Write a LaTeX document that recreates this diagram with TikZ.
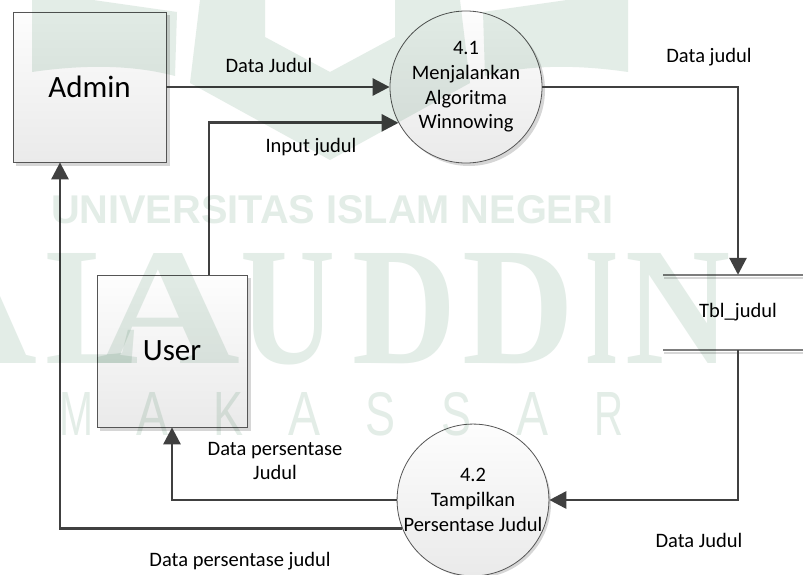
\documentclass[tikz,border=0pt]{standalone}
\usepackage{graphicx}
\usepackage{fontspec}
\setmainfont{Carlito}
\newfontfamily\marksans{Liberation Sans}
\newfontfamily\markserif{Liberation Serif}
\usetikzlibrary{arrows.meta}

\definecolor{edgec}{RGB}{85,85,85}
\definecolor{flowc}{RGB}{64,64,64}
\definecolor{fillt}{RGB}{253,253,253}
\definecolor{fillb}{RGB}{234,234,234}
\definecolor{shadowc}{RGB}{214,214,214}
\definecolor{storec}{RGB}{125,125,125}
\definecolor{storesh}{RGB}{215,215,215}
\definecolor{markc}{RGB}{227,237,231}

% one stretched watermark glyph: left x, width, top y, height, text
\newcommand{\markglyph}[5]{%
  \node[anchor=north west, inner sep=0pt, outer sep=0pt] at (#1,#3)
    {\resizebox{#2pt}{#4pt}{#5}};}

\tikzset{
  entity/.style={draw=edgec, line width=0.8pt, top color=fillt, bottom color=fillb,
    inner sep=0pt, font=\fontsize{31}{37}\selectfont},
  proc/.style={circle, draw=edgec, line width=0.8pt, top color=fillt, bottom color=fillb,
    inner sep=0pt, align=center, font=\fontsize{20.5}{24.6}\selectfont},
  drop/.style={fill=shadowc, draw=none},
  flow/.style={draw=flowc, line width=2.9pt, -{Triangle[length=17pt,width=17pt]}},
  lbl/.style={inner sep=0pt, align=center, font=\fontsize{20.5}{23.5}\selectfont},
  storeline/.style={draw=storec, line width=1.1pt},
  storeshadow/.style={draw=storesh, line width=1.1pt}
}

\begin{document}
\begin{tikzpicture}[x=1pt,y=-1pt]
\useasboundingbox (0,0) rectangle (803,575);
\fill[white] (0,0) rectangle (803,575);

% drop shadows of the external entities and processes
\fill[drop] (16,15) rectangle (170,166);
\fill[drop] (100,278) rectangle (251,431);
\fill[drop] (469,90) circle (76);
\fill[drop] (476,503) circle (75);

% external entities
\node[entity, minimum width=153pt, minimum height=150pt] (admin) at (89.5,87) {Admin};
\node[entity, minimum width=150pt, minimum height=152pt] (user) at (172,351) {User};

% processes
\node[proc, minimum size=152pt] (p41) at (466,87)
  {4.1\\Menjalankan\\Algoritma\\Winnowing};
\node[proc, minimum size=150pt] (p42) at (473,500)
  {4.2\\Tampilkan\\Persentase Judul};

% data store
\node[inner sep=0pt, minimum width=140pt, minimum height=75pt,
  font=\fontsize{20.5}{24.6}\selectfont] (tbl) at (738,312.5) {Tbl\_judul};
\draw[storeshadow] (664,278) -- (803,278);
\draw[storeshadow] (664,353) -- (803,353);
\draw[storeline] (663,275) -- (803,275);
\draw[storeline] (663,350) -- (803,350);

% data flows
\draw[flow] (admin.east) -- (p41.west);
\draw[flow] ([xshift=37pt]user.north) |- (p41.208);
\draw[flow] (p41.east) -| (tbl.north);
\draw[flow] (tbl.south) |- (p42.east);
\draw[flow] (p42.west) -| (user.south);
\draw[flow] (p42.202) -| ([xshift=-29.5pt]admin.south);

% flow labels
\node[lbl] (t1) at (269,65) {Data Judul};
\node[lbl] (t2) at (311,147) {Input judul};
\node[lbl] (t3) at (709,57) {Data judul};
\node[lbl] (t4) at (699,540) {Data Judul};
\node[lbl] (t5) at (275,461) {Data persentase\\Judul};
\node[lbl] (t6) at (240,561) {Data persentase judul};

% university watermark, multiplied over the diagram
\begin{scope}[blend mode=multiply, every node/.style={text=markc}]
  \fill[markc] (32,0) -- (93,0) -- (177,12) -- (175,76)
    .. controls (130,64) and (80,65) .. (32,72) -- cycle;
  \fill[markc] (628,0) -- (567,0) -- (483,12) -- (485,76)
    .. controls (530,64) and (580,65) .. (628,72) -- cycle;
  \fill[markc] (200,0) -- (265,0) -- (265,37) -- (330,72) -- (395,37) -- (395,0)
    -- (460,0) -- (470,83) -- (330,160) -- (190,83) -- cycle;

  \markglyph{51}{562}{195}{28}{\marksans\bfseries UNIVERSITAS ISLAM NEGERI}

  \markglyph{-102}{140}{253}{110}{\markserif\bfseries A}
  \markglyph{45}{95}{253}{110}{\markserif\bfseries L}
  \markglyph{95}{145}{253}{110}{\markserif\bfseries A}
  \markglyph{240}{95}{253}{110}{\markserif\bfseries U}
  \markglyph{352}{104}{253}{110}{\markserif\bfseries D}
  \markglyph{462}{112}{253}{110}{\markserif\bfseries D}
  \markglyph{585}{33}{253}{110}{\markserif\bfseries I}
  \markglyph{625}{105}{253}{110}{\markserif\bfseries N}

  \markglyph{59}{34}{392}{43}{\marksans M}
  \markglyph{136}{32}{392}{43}{\marksans A}
  \markglyph{213}{30}{392}{43}{\marksans K}
  \markglyph{288}{32}{392}{43}{\marksans A}
  \markglyph{365}{30}{392}{43}{\marksans S}
  \markglyph{441}{30}{392}{43}{\marksans S}
  \markglyph{516}{32}{392}{43}{\marksans A}
  \markglyph{594}{29}{392}{43}{\marksans R}
\end{scope}
\end{tikzpicture}
\end{document}
